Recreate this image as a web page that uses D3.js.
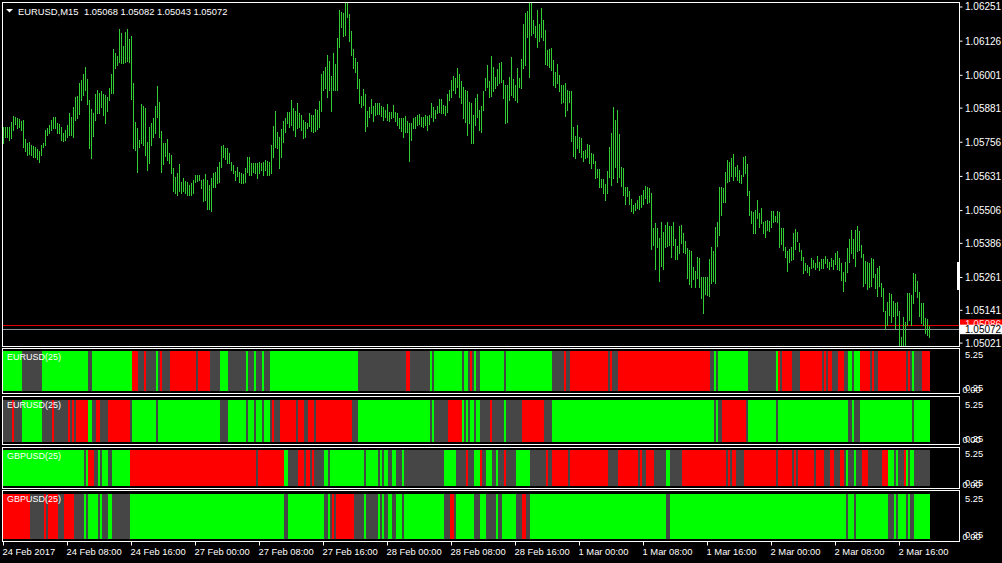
<!DOCTYPE html>
<html><head><meta charset="utf-8">
<script src="https://cdn.jsdelivr.net/npm/d3@7"></script>
<style>
body{margin:0;background:#000;overflow:hidden}
svg{display:block}
text{font-family:"Liberation Sans",Arial,sans-serif;fill:#fff}
</style></head>
<body><svg id="c" width="1002" height="563"></svg>
<script>
// ---------------- DATA ----------------
const SYMBOL = "EURUSD,M15";
const LAST_OHLC = [1.05068, 1.05082, 1.05043, 1.05072];
const BID = 1.05072, ASK = 1.05086;
const BASE = 1.05, POINT = 0.00001;   // bar values below are points above 1.05000

const HIGH_PTS = [
811,811,809,811,829,850,848,842,839,833,836,765,750,756,744,742,738,731,724,744,
753,799,805,817,836,846,848,824,821,811,787,799,817,860,846,885,921,924,972,982,
1004,1029,986,909,875,860,931,946,933,943,931,927,919,952,1004,1094,1080,1070,1168,1153,
1107,1159,1168,1131,1143,970,830,805,763,894,887,879,756,811,826,842,887,960,903,796,
753,753,765,716,708,659,628,641,675,610,622,614,610,598,604,616,634,634,634,616,
619,638,616,598,622,641,647,665,683,741,744,732,732,714,683,671,650,665,647,643,
638,659,699,702,677,680,677,680,683,677,683,689,687,683,744,814,870,793,775,802,
833,842,866,866,907,879,870,899,860,854,836,830,826,860,
854,854,875,872,905,1004,1016,1031,1074,1053,997,1082,1041,1135,1238,1232,1226,1265,1265,1224,
1163,1094,1062,1049,986,924,948,931,870,882,911,887,899,897,897,887,882,872,894,865,
866,891,866,860,842,842,842,850,833,824,824,842,846,854,858,848,846,854,850,854,
897,882,872,887,911,914,891,887,931,946,982,997,988,1025,1004,980,955,946,940,903,
897,854,915,931,872,887,943,988,1037,980,1070,1031,994,1021,1043,1049,982,964,964,992,
1068,985,964,1025,988,1058,1187,1226,1236,1265,1265,1202,1180,1238,1187,1245,1202,1165,1092,1094,
1098,1055,1013,1041,1001,964,964,972,946,943,940,811,777,817,775,769,724,726,748,744,
716,711,687,656,655,620,620,602,649,738,789,885,836,872,785,
665,661,592,592,574,547,525,533,543,558,561,580,594,592,586,570,442,460,439,403,
464,427,452,464,448,448,464,399,375,448,452,421,394,366,360,358,299,284,333,330,
260,262,260,260,326,370,358,445,464,592,592,586,647,689,683,696,711,665,671,653,
634,702,704,675,577,504,500,506,543,494,513,464,466,470,466,504,504,484,503,500,
439,439,370,358,362,370,421,436,427,387,360,336,314,305,299,330,323,311,338,317,
326,326,338,326,317,330,323,348,358,330,311,281,317,366,399,433,399,433,448,430,
378,345,320,317,311,330,326,272,293,301,238,220,138,171,201,199,175,165,171,138,
40,114,98,204,201,195,275,272,248,208,167,167,110,106,82
];
const LOW_PTS = [
753,775,775,763,769,799,821,805,811,799,736,724,708,711,708,702,699,692,683,708,
738,744,781,787,799,805,805,789,789,763,758,763,775,781,781,775,836,842,858,909,
927,946,894,732,696,777,836,860,860,885,854,826,870,909,933,936,1025,1037,1049,1043,
1043,1049,1053,1049,911,732,726,647,736,750,744,708,653,680,744,772,787,848,775,646,
675,704,689,677,641,574,567,561,577,570,577,570,561,561,561,567,610,614,616,586,
541,543,509,509,504,592,592,606,610,665,702,692,680,677,653,641,616,631,610,604,
604,610,647,634,634,647,641,622,641,653,634,653,634,634,641,702,738,732,659,702,
756,793,824,811,817,799,777,805,811,799,769,775,805,814,
797,793,797,802,811,870,946,952,921,946,870,946,946,946,1104,1177,1143,1147,1212,1126,
1074,1025,1013,952,899,882,891,797,814,846,863,833,854,858,858,850,836,848,836,833,
842,846,833,817,805,797,775,793,793,687,763,805,805,817,821,814,811,817,799,821,
848,833,842,860,866,860,860,854,866,907,921,946,933,955,919,897,842,830,781,824,
753,753,817,848,799,793,872,946,955,919,924,940,952,964,970,976,915,826,830,909,
927,921,907,903,958,952,1025,1037,1141,992,1147,1153,1138,1104,1123,1141,1129,1041,1037,1031,
1019,964,955,970,940,899,903,852,872,903,760,704,696,732,720,702,687,696,699,677,
659,677,622,628,592,589,570,543,570,626,598,622,665,610,628,
594,561,528,558,528,504,494,506,512,509,519,528,549,533,537,362,378,289,372,248,
301,289,372,375,378,336,378,326,326,348,384,354,348,256,236,223,253,226,256,223,
183,131,199,195,192,240,248,240,375,415,488,537,537,610,614,631,616,631,616,610,
604,631,641,561,488,460,421,421,476,445,460,423,409,433,431,445,464,467,464,372,
382,360,336,284,317,323,326,362,391,358,323,277,287,281,269,293,299,289,299,287,
293,293,311,297,289,301,289,309,289,287,250,211,248,281,317,348,332,301,358,360,
336,228,240,216,223,228,260,220,192,228,192,138,70,86,122,98,118,73,122,-15,
-15,-15,-15,86,104,86,167,211,189,118,94,86,57,49,43
];

const PRICE_TICKS = [1.06251,1.06126,1.06001,1.05881,1.05756,1.05631,1.05506,1.05386,1.05261,1.05141,1.05021];
const TIME_TICK_BARS = [0,32,64,96,128,160,192,224,256,288,320,352,384,416,448];
const TIME_LABELS = ["24 Feb 2017","24 Feb 08:00","24 Feb 16:00","27 Feb 00:00","27 Feb 08:00",
  "27 Feb 16:00","28 Feb 00:00","28 Feb 08:00","28 Feb 16:00","1 Mar 00:00","1 Mar 08:00",
  "1 Mar 16:00","2 Mar 00:00","2 Mar 08:00","2 Mar 16:00"];

const PANEL_NAMES = ["EURUSD(25)","EURUSD(25)","GBPUSD(25)","GBPUSD(25)"];
const SUB_TICKS = [5.25, 0.25, 0.00];
const SUB_DOMAIN = [-0.3, 5.85];
// run-length states per bar: G = up (green), R = down (red), N = neutral (gray)
const P1_RUNS = "G10 N10 G23 N2 G20 R3 N3 R1 N5 G1 N1 R1 N4 R13 N1 R6 N5 G4 N9 G1 N3 G1 N3 G1 N3 G44 N24 R2 N10 G1 N1 G14 N1 G2 N1 R1 N1 G1 N2 G12 N1 G23 N6 R1 N2 R19 N1 R1 N3 R46 N2 G1 N1 G15 N14 G1 R1 N1 R5 N4 R11 N1 R1 N1 R2 N3 R3 N2 G2 N1 G3 R5 N1 R1 N2 R14 N1 R1 N1 G1 N4 R4".split(" ");
const P2_RUNS = "N5 R1 N4 G10 N5 R1 N7 R1 N1 R1 N1 R6 G2 N2 R2 N4 R11 N1 G12 N1 G31 N4 G9 N1 G3 N1 G3 N1 G3 N1 R1 N3 R8 N1 R3 N2 R3 N1 R18 N3 G36 N1 G1 N7 R7 G1 N1 G1 N1 G2 N1 G2 N5 R1 N6 G1 N8 R11 N4 G81 N1 G1 N2 R12 N1 G14 N1 G35 N2 G1 N3 G26 N1 G8".split(" ");
const P3_RUNS = "G41 N1 G1 R3 N2 G1 N1 G3 N2 G9 R63 N1 R13 G2 N5 R3 N1 R2 N1 R1 N5 G2 N1 G17 N1 G6 N1 G1 N1 G2 N2 G2 N3 G1 N20 G6 N5 R1 N3 G3 R1 N2 G3 N2 G1 N3 R1 N5 G7 N8 R1 N2 R8 N1 R19 N5 R10 N1 R1 N2 R4 N6 G2 N6 R22 N1 R1 N1 R2 N4 R16 N1 R7 N1 R1 N1 R8 N1 R4 N3 R2 N3 R2 N1 G1 N3 G1 N3 R3 N7 R3 G3 N1 G1 N3 R1 G1 N1 G2 N8".split(" ");
const P4_RUNS = "R14 N7 R1 N1 R5 N3 R5 N5 G1 N1 G5 N1 G1 N3 G2 N9 G77 N2 G18 N2 G1 N1 R1 N1 R9 N5 G1 N6 G1 N1 G1 N2 G2 N2 G3 N1 G20 N3 R2 N1 G9 N3 G3 N5 G1 N2 G7 N3 R2 N2 G68 N2 G88 N1 G3 N1 G16 N3 G1 N1 G4 N1 G1 N2 G8".split(" ");
const PANEL_RUNS = [P1_RUNS, P2_RUNS, P3_RUNS, P4_RUNS];

// ---------------- LAYOUT / STYLE ----------------
const STATE_COLOR = {G:"#00ff00", R:"#ff0000", N:"#464646"};
const BAR_COLOR = "#32cd32";
const MAIN = {left:2.5, right:959.5, top:2.5, bottom:346.5};
const SUBS = [
  {top:348.5, bottom:393.5, fillTop:351, fillBot:391},
  {top:396.5, bottom:444.5, fillTop:400, fillBot:442},
  {top:447.5, bottom:488.5, fillTop:450, fillBot:486},
  {top:490.5, bottom:541.5, fillTop:494, fillBot:539}
];

const svg = d3.select("#c");
svg.append("rect").attr("width",1002).attr("height",563).attr("fill","#000");

const N = HIGH_PTS.length;
const x = d3.scaleLinear().domain([0, N-1]).range([3, 3 + 2*(N-1)]);
const yP = d3.scaleLinear().domain([1.05021, 1.06251]).range([342.6, 6.5]);
const toPrice = p => BASE + p*POINT;

const defs = svg.append("defs");
defs.append("clipPath").attr("id","mainClip").append("rect")
  .attr("x",3).attr("y",3).attr("width",956).attr("height",343);
defs.append("clipPath").attr("id","subClip").append("rect")
  .attr("x",3).attr("y",0).attr("width",956).attr("height",563);

// ---------- main panel ----------
const main = svg.append("g").attr("clip-path","url(#mainClip)");
// ask / bid lines
main.append("line").attr("x1",3).attr("x2",959)
  .attr("y1",Math.round(yP(ASK))+0.5).attr("y2",Math.round(yP(ASK))+0.5)
  .attr("stroke","#e00000").attr("stroke-width",1);
main.append("line").attr("x1",3).attr("x2",959)
  .attr("y1",Math.round(yP(BID))+0.5).attr("y2",Math.round(yP(BID))+0.5)
  .attr("stroke","#8a929c").attr("stroke-width",1);

const bars = d3.range(N).map(i => ({i, h: toPrice(HIGH_PTS[i]), l: toPrice(LOW_PTS[i])}));
main.selectAll("line.bar").data(bars).join("line").attr("class","bar")
  .attr("x1", d => x(d.i)+0.5).attr("x2", d => x(d.i)+0.5)
  .attr("y1", d => Math.round(yP(d.h))).attr("y2", d => Math.round(yP(d.l))+1)
  .attr("stroke", BAR_COLOR).attr("stroke-width",1).attr("shape-rendering","crispEdges");

// main frame
svg.append("rect").attr("x",MAIN.left).attr("y",MAIN.top)
  .attr("width",MAIN.right-MAIN.left).attr("height",MAIN.bottom-MAIN.top)
  .attr("fill","none").attr("stroke","#fff").attr("stroke-width",1).attr("shape-rendering","crispEdges");

// price axis
const pAxis = d3.axisRight(yP).tickValues(PRICE_TICKS).tickFormat(d3.format(".5f")).tickSize(3);
const pg = svg.append("g").attr("transform",`translate(${MAIN.right},0)`).call(pAxis);
pg.select(".domain").remove();
pg.selectAll(".tick line").attr("stroke","#fff");
pg.selectAll(".tick text").attr("x",5.5).attr("dy","0.34em")
  .style("font-family","'Liberation Sans',Arial,sans-serif").style("font-size","10px").attr("fill","#fff");

// white marker on right edge
svg.append("rect").attr("x",957).attr("y",262).attr("width",3).attr("height",28).attr("fill","#fff");

// ask / bid price boxes
const askY = yP(ASK), bidY = yP(BID);
svg.append("rect").attr("x",960).attr("y",askY-5.5).attr("width",42).attr("height",11).attr("fill","#ff0000");
svg.append("text").attr("x",965).attr("y",askY+3.5).attr("font-size","10px").attr("fill","#ffdddd")
  .style("fill","#ffdddd").text(d3.format(".5f")(ASK));
svg.append("rect").attr("x",960).attr("y",bidY-4).attr("width",42).attr("height",9.5).attr("fill","#fff");
svg.append("text").attr("x",965).attr("y",bidY+4).attr("font-size","10px")
  .style("fill","#000").text(d3.format(".5f")(BID));

// header
svg.append("path").attr("d","M6,9 L13,9 L9.5,12.5 Z").attr("fill","#fff");
svg.append("text").attr("x",18).attr("y",14.5).attr("font-size","9.4px").text(SYMBOL);
svg.append("text").attr("x",84).attr("y",14.5).attr("font-size","9.4px")
  .text(LAST_OHLC.map(d3.format(".5f")).join(" "));

// ---------- sub panels ----------
function expandRuns(runs){
  const out = []; let start = 0;
  runs.forEach(r => { const s = r[0], n = +r.slice(1); out.push({s, start, n}); start += n; });
  return out;
}
SUBS.forEach((p, k) => {
  const yS = d3.scaleLinear().domain(SUB_DOMAIN).range([p.fillBot, p.fillTop]);
  const g = svg.append("g").attr("clip-path","url(#subClip)");
  const runs = expandRuns(PANEL_RUNS[k]);
  g.selectAll("rect").data(runs).join("rect")
    .attr("x", d => x(d.start)-1)
    .attr("width", d => x(d.start+d.n) - x(d.start))
    .attr("y", yS(SUB_DOMAIN[1]))
    .attr("height", yS(SUB_DOMAIN[0]) - yS(SUB_DOMAIN[1]))
    .attr("fill", d => STATE_COLOR[d.s]).attr("shape-rendering","crispEdges");
  svg.append("rect").attr("x",MAIN.left).attr("y",p.top)
    .attr("width",MAIN.right-MAIN.left).attr("height",p.bottom-p.top)
    .attr("fill","none").attr("stroke","#fff").attr("stroke-width",1).attr("shape-rendering","crispEdges");
  svg.append("text").attr("x",7).attr("y",p.top+11.8).attr("font-size","9px").text(PANEL_NAMES[k]);
  SUB_TICKS.forEach(v => {
    svg.append("text").attr("x", v === 0 ? 962.5 : 965).attr("y", yS(v)+3.5)
      .attr("font-size","9.4px").text(d3.format(".2f")(v));
  });
});

// ---------- time axis ----------
const tAxis = d3.axisBottom(x).tickValues(TIME_TICK_BARS)
  .tickFormat((d,i) => TIME_LABELS[i]).tickSize(4);
const tg = svg.append("g").attr("transform",`translate(0,${SUBS[3].bottom})`).call(tAxis);
tg.select(".domain").remove();
tg.selectAll(".tick line").attr("stroke","#fff");
tg.selectAll(".tick text").attr("x",-1).attr("y",13.5).attr("dy",0).attr("text-anchor","start")
  .style("font-family","'Liberation Sans',Arial,sans-serif").style("font-size","9.4px").attr("fill","#fff");
</script>
</body></html>
